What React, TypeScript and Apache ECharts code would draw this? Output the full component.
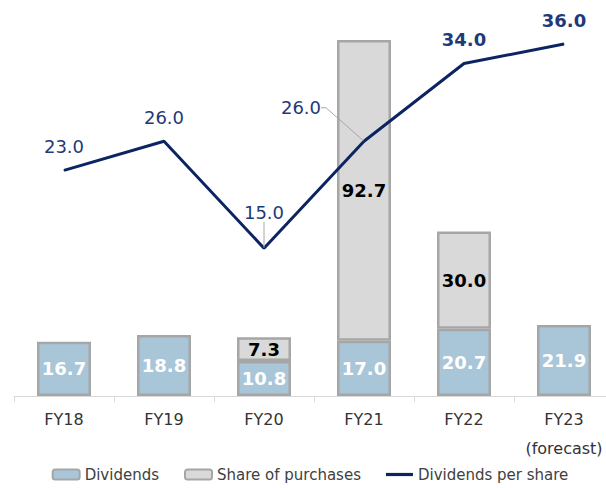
import React, { useEffect, useRef } from "react";
import * as echarts from "echarts";

const categories = ["FY18", "FY19", "FY20", "FY21", "FY22", "FY23\n(forecast)"];
const dividends = [16.7, 18.8, 10.8, 17.0, 20.7, 21.9];
const sharePurchases: (number | string)[] = ["-", "-", 7.3, 92.7, 30.0, "-"];
const dividendsPerShare = [23.0, 26.0, 15.0, 26.0, 34.0, 36.0];
const boldLabelIdx = [4, 5];

const FONT = "DejaVu Sans";
const NAVY = "#0c2461";
const LABEL_NAVY = "#1f3a78";
const BORDER = "#a6a6a6";

export default function App() {
  const ref = useRef<HTMLDivElement>(null);
  useEffect(() => {
    if (!ref.current) return;
    const chart = echarts.init(ref.current, undefined, { renderer: "svg" });
    const lineData = dividendsPerShare.map((v, i) => ({
      value: v,
      label: { fontWeight: boldLabelIdx.includes(i) ? "bold" : "normal" },
      labelLine: { show: i === 2 || i === 3 },
    }));
    chart.setOption({
      animation: false,
      textStyle: { fontFamily: FONT },
      grid: { left: 14, right: 6, top: 6.6, bottom: 92 },
      legend: {
        top: 462,
        left: "center",
        itemWidth: 27,
        itemHeight: 10,
        itemGap: 25,
        textStyle: { fontFamily: FONT, fontSize: 15, color: "#404040" },
        data: [
          { name: "Dividends" },
          { name: "Share of purchases" },
          { name: "Dividends per share", icon: "path://M0,0 H27 V3.2 H0 Z" },
        ],
      },
      xAxis: {
        type: "category",
        data: categories,
        axisLine: { lineStyle: { color: "#d9d9d9", width: 1 } },
        axisTick: { show: true, interval: 0, length: 6, lineStyle: { color: "#d9d9d9" } },
        axisLabel: {
          interval: 0,
          fontFamily: FONT,
          fontSize: 16,
          color: "#333333",
          margin: 9,
          lineHeight: 29,
        },
      },
      yAxis: [
        { type: "value", min: 0, max: 120, show: false },
        { type: "value", min: -0.2, max: 39.85, show: false },
      ],
      series: [
        {
          name: "Dividends",
          type: "bar",
          stack: "a",
          barWidth: 54,
          data: dividends,
          itemStyle: { color: "#a9c6d9", borderColor: BORDER, borderWidth: 2.5 },
          label: {
            show: true,
            position: "inside",
            color: "#ffffff",
            fontFamily: FONT,
            fontWeight: "bold",
            fontSize: 18,
            formatter: (p: any) => Number(p.value).toFixed(1),
          },
        },
        {
          name: "Share of purchases",
          type: "bar",
          stack: "a",
          barWidth: 54,
          data: sharePurchases,
          itemStyle: { color: "#d9d9d9", borderColor: BORDER, borderWidth: 2.5 },
          label: {
            show: true,
            position: "inside",
            color: "#000000",
            fontFamily: FONT,
            fontWeight: "bold",
            fontSize: 18,
            formatter: (p: any) => Number(p.value).toFixed(1),
          },
        },
        {
          name: "Dividends per share",
          type: "line",
          yAxisIndex: 1,
          z: 5,
          data: lineData,
          symbol: "circle",
          symbolSize: 1,
          showSymbol: true,
          lineStyle: { color: NAVY, width: 3 },
          itemStyle: { color: NAVY },
          label: {
            show: true,
            position: "top",
            distance: 14,
            color: LABEL_NAVY,
            fontFamily: FONT,
            fontSize: 18,
            formatter: (p: any) => Number(p.value).toFixed(1),
          },
          labelLine: { show: false, length2: 5, lineStyle: { color: "#a6a6a6", width: 1 } },
          labelLayout: (params: any) => {
            if (params.dataIndex === 2) return { dy: -12 };
            if (params.dataIndex === 3) return { dx: -63, dy: -10 };
            return {};
          },
        },
      ],
    });
    return () => chart.dispose();
  }, []);
  return (
    <div style={{ position: "absolute", left: 0, top: 0, width: 606, height: 488, overflow: "hidden" }}>
      <div ref={ref} style={{ width: 620, height: 488 }} />
    </div>
  );
}
